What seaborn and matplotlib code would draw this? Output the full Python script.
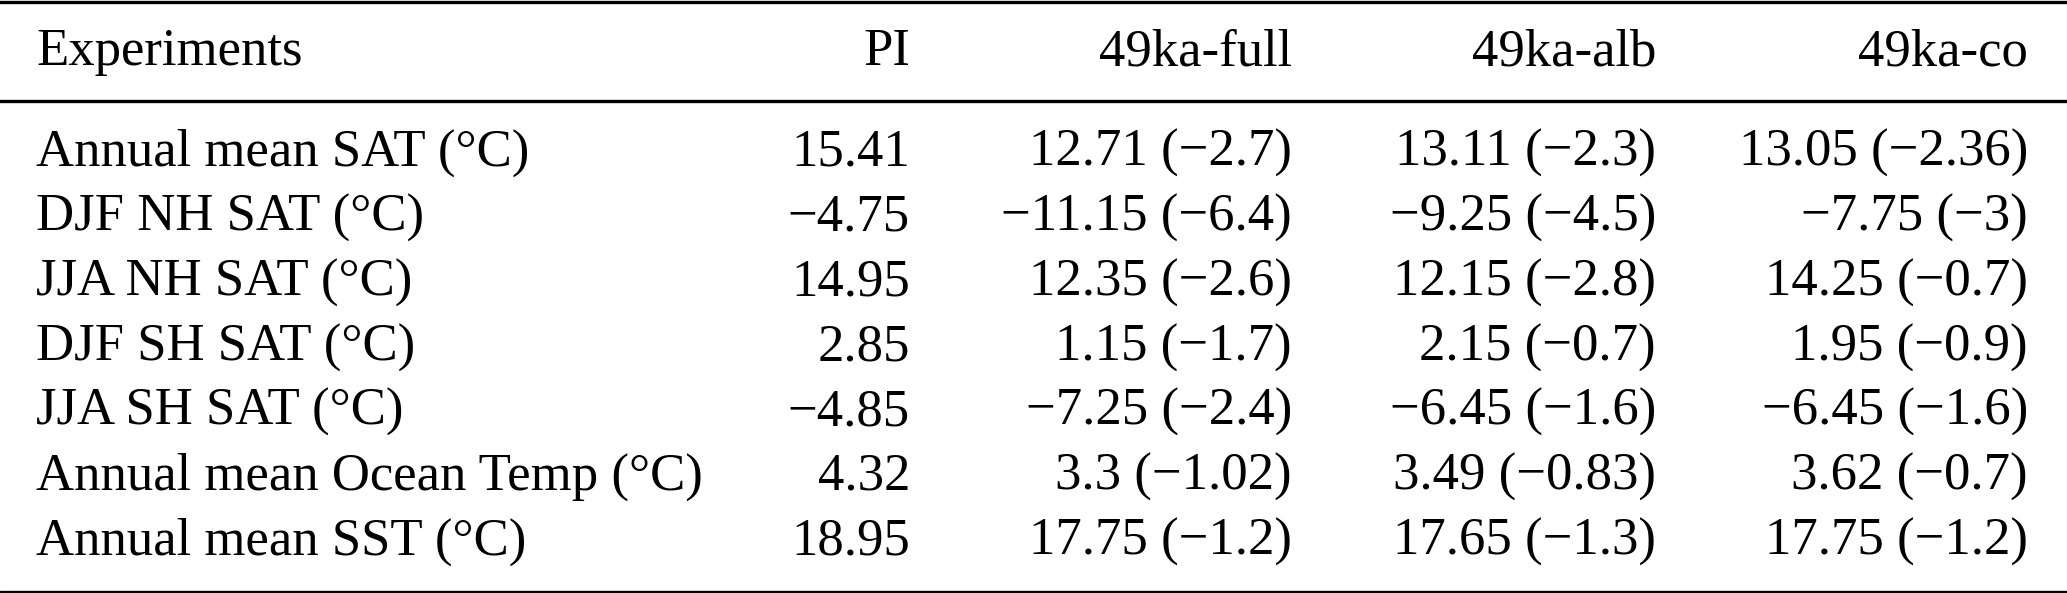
import matplotlib
matplotlib.use("Agg")
import matplotlib.pyplot as plt
import seaborn as sns

# ---- data ----
experiments = ["PI", "49ka-full", "49ka-alb", "49ka-co"]
variables = [
    "Annual mean SAT (°C)",
    "DJF NH SAT (°C)",
    "JJA NH SAT (°C)",
    "DJF SH SAT (°C)",
    "JJA SH SAT (°C)",
    "Annual mean Ocean Temp (°C)",
    "Annual mean SST (°C)",
]
pi_values = [15.41, -4.75, 14.95, 2.85, -4.85, 4.32, 18.95]
full_values = [12.71, -11.15, 12.35, 1.15, -7.25, 3.3, 17.75]
full_anom = [-2.7, -6.4, -2.6, -1.7, -2.4, -1.02, -1.2]
alb_values = [13.11, -9.25, 12.15, 2.15, -6.45, 3.49, 17.65]
alb_anom = [-2.3, -4.5, -2.8, -0.7, -1.6, -0.83, -1.3]
co_values = [13.05, -7.75, 14.25, 1.95, -6.45, 3.62, 17.75]
co_anom = [-2.36, -3, -0.7, -0.9, -1.6, -0.7, -1.2]


def fmt(v):
    return f"{v:g}".replace("-", "\u2212")


def cell(v, a=None):
    return fmt(v) if a is None else f"{fmt(v)} ({fmt(a)})"


sns.set_theme(style="white")
plt.rcParams["font.family"] = ["Liberation Serif", "DejaVu Serif"]

W, H = 2067, 593
fig = plt.figure(figsize=(W / 100, H / 100), dpi=100)
ax = fig.add_axes([0, 0, 1, 1])
ax.set_xlim(0, W)
ax.set_ylim(H, 0)
ax.axis("off")

fs = 38
left_x = 36
right_x = [910, 1292, 1656, 2028]
header_y = 65
row_y0 = 166
row_dy = 64.8

# rules
for y, lw in [(1.5, 2.4), (101, 2.4), (591.5, 2.4)]:
    ax.axhline(y, color="black", lw=lw)

ax.text(left_x, header_y, "Experiments", fontsize=fs, ha="left", va="baseline", color="black")
for x, name in zip(right_x, experiments):
    ax.text(x, header_y, name, fontsize=fs, ha="right", va="baseline", color="black")

columns = [
    [cell(v) for v in pi_values],
    [cell(v, a) for v, a in zip(full_values, full_anom)],
    [cell(v, a) for v, a in zip(alb_values, alb_anom)],
    [cell(v, a) for v, a in zip(co_values, co_anom)],
]

for i, var in enumerate(variables):
    y = row_y0 + i * row_dy
    ax.text(left_x, y, var, fontsize=fs, ha="left", va="baseline", color="black")
    for x, col in zip(right_x, columns):
        ax.text(x, y, col[i], fontsize=fs, ha="right", va="baseline", color="black")

fig.savefig("out.png", dpi=100, facecolor="white")
